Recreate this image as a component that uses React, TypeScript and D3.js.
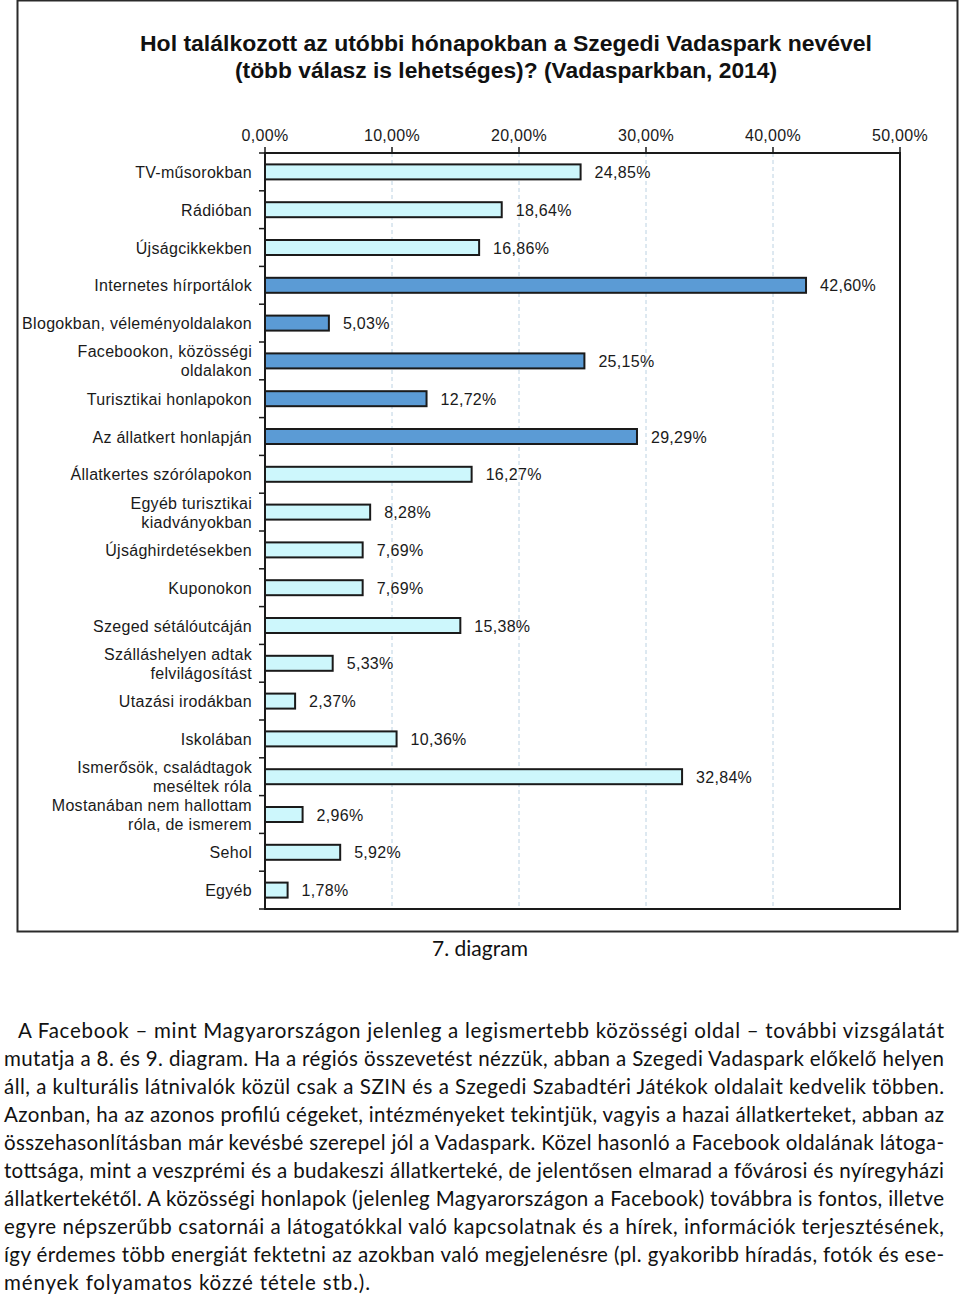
import React from "react";
import * as d3 from "d3";

const categories: string[][] = [
  ["TV-műsorokban"],
  ["Rádióban"],
  ["Újságcikkekben"],
  ["Internetes hírportálok"],
  ["Blogokban, véleményoldalakon"],
  ["Facebookon, közösségi", "oldalakon"],
  ["Turisztikai honlapokon"],
  ["Az állatkert honlapján"],
  ["Állatkertes szórólapokon"],
  ["Egyéb turisztikai", "kiadványokban"],
  ["Újsághirdetésekben"],
  ["Kuponokon"],
  ["Szeged sétálóutcáján"],
  ["Szálláshelyen adtak", "felvilágosítást"],
  ["Utazási irodákban"],
  ["Iskolában"],
  ["Ismerősök, családtagok", "meséltek róla"],
  ["Mostanában nem hallottam", "róla, de ismerem"],
  ["Sehol"],
  ["Egyéb"],
];
const values: number[] = [
  24.85, 18.64, 16.86, 42.6, 5.03, 25.15, 12.72, 29.29, 16.27, 8.28, 7.69, 7.69,
  15.38, 5.33, 2.37, 10.36, 32.84, 2.96, 5.92, 1.78,
];
const groups: string[] = [
  "light", "light", "light", "blue", "blue", "blue", "blue", "blue", "light", "light",
  "light", "light", "light", "light", "light", "light", "light", "light", "light", "light",
];
const xTicks: number[] = [0, 10, 20, 30, 40, 50];

const titleLines = [
  "Hol találkozott az utóbbi hónapokban a Szegedi Vadaspark nevével",
  "(több válasz is lehetséges)? (Vadasparkban, 2014)",
];
const caption = "7. diagram";
const paragraph: string[] = [
  "A Facebook  – mint Magyarországon jelenleg a legismertebb közösségi oldal – további vizsgálatát",
  "mutatja a 8. és 9. diagram. Ha a régiós összevetést nézzük, abban a Szegedi Vadaspark előkelő helyen",
  "áll, a kulturális látnivalók közül csak a SZIN és a  Szegedi Szabadtéri Játékok oldalait kedvelik többen.",
  "Azonban, ha az azonos profilú cégeket, intézményeket tekintjük, vagyis a hazai állatkerteket, abban az",
  "összehasonlításban már kevésbé szerepel jól a Vadaspark. Közel hasonló a Facebook oldalának látoga-",
  "tottsága, mint a veszprémi és a budakeszi állatkerteké, de jelentősen elmarad a fővárosi és nyíregyházi",
  "állatkertekétől. A közösségi honlapok (jelenleg Magyarországon a Facebook) továbbra is fontos, illetve",
  "egyre népszerűbb csatornái a látogatókkal való kapcsolatnak és a hírek, információk terjesztésének,",
  "így érdemes több energiát fektetni az azokban való megjelenésre (pl. gyakoribb híradás, fotók és ese-",
  "mények folyamatos közzé tétele stb.).",
];

const fmt = (v: number) => v.toFixed(2).replace(".", ",") + "%";

export default function App() {
  const W = 960;
  const H = 1299;
  const left = 265;
  const right = 900;
  const top = 153;
  const bottom = 909;

  const x = d3.scaleLinear().domain([0, 50]).range([left, right]);
  const band = (bottom - top) / categories.length;
  const barH = 15;

  const colors: Record<string, string> = { light: "#cdf7fc", blue: "#5b9bd5" };
  const font = "'Liberation Sans', Arial, sans-serif";
  const titleWidths = [732, 542];
  const fs = 16;
  const ls = 0.3;

  return (
    <svg
      width={W}
      height={H}
      style={{ position: "absolute", left: 0, top: 0, background: "#fff" }}
      fontFamily={font}
    >
      <rect x={0} y={0} width={W} height={H} fill="#fff" />
      {/* outer frame */}
      <rect x={17.5} y={0.5} width={940} height={931} fill="none" stroke="#2a2a2a" strokeWidth={2} />

      {/* title */}
      {titleLines.map((t, i) => (
        <text
          key={i}
          x={506 - titleWidths[i] / 2}
          y={51 + i * 27}
          fontSize={22}
          fontWeight="bold"
          fill="#111"
          textLength={titleWidths[i]}
          lengthAdjust="spacingAndGlyphs"
        >
          {t}
        </text>
      ))}

      {/* grid lines */}
      {xTicks.slice(1, -1).map((t) => (
        <line
          key={"g" + t}
          x1={x(t)}
          x2={x(t)}
          y1={top}
          y2={bottom}
          stroke="#bcd2e2"
          strokeWidth={1}
          strokeDasharray="4,3"
        />
      ))}

      {/* bars */}
      {values.map((v, i) => {
        const cy = top + band * (i + 0.5);
        return (
          <g key={"b" + i}>
            <rect
              x={x(0)}
              y={cy - barH / 2}
              width={x(v) - x(0)}
              height={barH}
              fill={colors[groups[i]]}
              stroke="#1a1a1a"
              strokeWidth={2}
            />
            <text x={x(v) + 14} y={cy + 6} fontSize={fs} letterSpacing={ls} fill="#1a1a1a">
              {fmt(v)}
            </text>
          </g>
        );
      })}

      {/* plot frame */}
      <rect x={left} y={top} width={right - left} height={bottom - top} fill="none" stroke="#1a1a1a" strokeWidth={2} />

      {/* top axis ticks */}
      {xTicks.map((t) => (
        <g key={"t" + t}>
          <line x1={x(t)} x2={x(t)} y1={top - 6} y2={top} stroke="#1a1a1a" strokeWidth={1.5} />
          <text x={x(t)} y={141} textAnchor="middle" fontSize={fs} letterSpacing={ls} fill="#1a1a1a">
            {t.toFixed(2).replace(".", ",") + "%"}
          </text>
        </g>
      ))}

      {/* left axis ticks */}
      {d3.range(categories.length + 1).map((i) => (
        <line
          key={"lt" + i}
          x1={left - 6}
          x2={left}
          y1={top + band * i}
          y2={top + band * i}
          stroke="#1a1a1a"
          strokeWidth={1.5}
        />
      ))}

      {/* category labels */}
      {categories.map((lines, i) => {
        const cy = top + band * (i + 0.5);
        const n = lines.length;
        return (
          <text key={"c" + i} textAnchor="end" fontSize={fs} letterSpacing={ls} fill="#1a1a1a">
            {lines.map((l, j) => (
              <tspan key={j} x={252} y={cy + 6 + (j - (n - 1) / 2) * 19}>
                {l}
              </tspan>
            ))}
          </text>
        );
      })}

      {/* caption */}
      <text x={480} y={956} textAnchor="middle" fontSize={21} fontFamily="Lato, 'Open Sans', sans-serif" fill="#111">
        {caption}
      </text>

      {/* paragraph */}
      {paragraph.map((line, i) => {
        const last = i === paragraph.length - 1;
        const x0 = i === 0 ? 18 : 4;
        const x1 = last ? 370 : 944;
        return (
          <text
            key={"p" + i}
            x={x0}
            y={1038 + i * 28}
            fontSize={20.5}
            fontFamily="Lato, 'Open Sans', sans-serif"
            fill="#111"
            textLength={x1 - x0}
            lengthAdjust="spacing"
          >
            {line}
          </text>
        );
      })}
    </svg>
  );
}
